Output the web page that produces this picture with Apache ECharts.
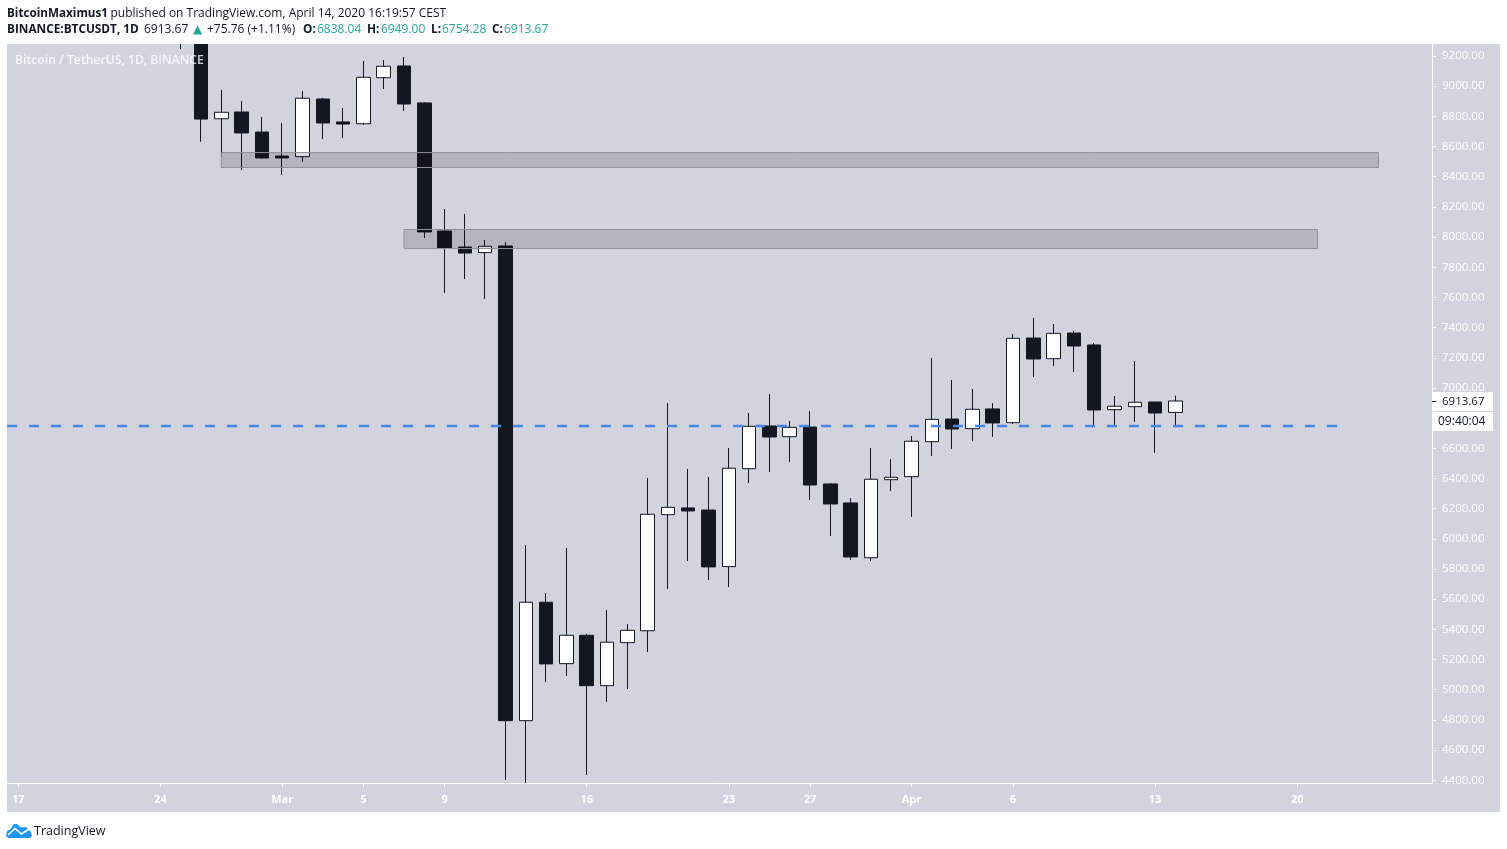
<!DOCTYPE html>
<html>
<head>
<meta charset="utf-8">
<title>BTCUSDT 1D</title>
<style>
    html, body { margin: 0; padding: 0; background: #fff; }
    #chart { width: 1507px; height: 849px; }
</style>
<script src="https://cdn.jsdelivr.net/npm/echarts@6/dist/echarts.min.js"></script>
</head>
<body>
<div id="chart"></div>
<script>
// x is the number of days since Feb 17 2020; first candle in view is Feb 25 (day 8)
const firstDay = 8;
const opens = [9650, 9315, 8784, 8829, 8696, 8537, 8533, 8915, 8763, 8751, 9056, 9134, 8889, 8040, 7934, 7897, 7941, 4795, 5580, 5173, 5361, 5027, 5312, 5391, 6160, 6205, 6191, 5816, 6465, 6748, 6677, 6741, 6364, 6238, 5875, 6392, 6412, 6644, 6794, 6730, 6861, 6770, 7331, 7194, 7364, 7285, 6856, 6876, 6907, 6838.04];
const closes = [9320, 8782, 8827, 8690, 8524, 8524, 8920, 8756, 8749, 9059, 9132, 8882, 8034, 7928, 7894, 7939, 4795, 5580, 5171, 5361, 5027, 5315, 5394, 6163, 6209, 6185, 5814, 6468, 6746, 6675, 6739, 6357, 6231, 5880, 6395, 6408, 6647, 6792, 6728, 6859, 6768, 7329, 7192, 7362, 7278, 6854, 6879, 6905, 6834, 6913.67];
const lows = [9246, 8632, 8533, 8445, 8520, 8411, 8498, 8650, 8657, 8743, 8981, 8836, 7994, 7629, 7722, 7590, 4402, 4382, 5052, 5091, 4435, 4919, 5005, 5250, 5668, 5853, 5727, 5681, 6370, 6443, 6509, 6258, 6019, 5860, 5853, 6317, 6145, 6549, 6596, 6649, 6675, 6761, 7073, 7146, 7106, 6741, 6755, 6775, 6569, 6754.28];
const highs = [9700, 9380, 8975, 8902, 8796, 8756, 8968, 8922, 8855, 9167, 9173, 9193, 8892, 8186, 8153, 7981, 7967, 5959, 5641, 5940, 5370, 5529, 5436, 6403, 6900, 6463, 6410, 6602, 6834, 6960, 6781, 6847, 6370, 6271, 6602, 6529, 6682, 7199, 7053, 6993, 6900, 7358, 7464, 7424, 7378, 7298, 6947, 7179, 6907, 6949];

const tickDays = [0, 7, 13, 17, 21, 28, 35, 39, 44, 49, 56, 63];
const tickLabels = ['17', '24', 'Mar', '5', '9', '16', '23', '27', 'Apr', '6', '13', '20'];
const priceTicks = [4400, 4600, 4800, 5000, 5200, 5400, 5600, 5800, 6000, 6200, 6400, 6600, 6800, 7000, 7200, 7400, 7600, 7800, 8000, 8200, 8400, 8600, 8800, 9000, 9200];

// resistance zones: [from day, to day, top price, bottom price]
const zoneUpper = [10, 67, 8560, 8461];
const zoneLower = [19, 64, 8050, 7924];

const dayMin = -0.557;
const dayMax = 69.64;
const supportPrice = 6748;
const supportDays = [dayMin, 65];

const candles = opens.map((o, i) => [firstDay + i, o, closes[i], lows[i], highs[i]]);

const myChart = echarts.init(document.getElementById('chart'));

const uiFont = '"Open Sans", sans-serif';
const ink = '#131722';
const teal = '#26a69a';

function zoneArea(z) {
    return [{ coord: [z[0], z[2]] }, { coord: [z[1], z[3]] }];
}

function headerText(text, left, top, color, weight, size) {
    return {
        type: 'text', left: left, top: top, z: 20, silent: true,
        style: { text: text, fill: color, font: weight + ' ' + size + 'px ' + uiFont }
    };
}

const options = {
    animation: false,
    backgroundColor: '#fff',
    grid: { left: 7, top: 44, right: 75, bottom: 66 },
    xAxis: {
        type: 'value',
        min: dayMin,
        max: dayMax,
        axisLine: { onZero: false, lineStyle: { color: '#fff', width: 1 } },
        axisTick: { show: true, customValues: tickDays, length: 4, lineStyle: { color: '#fff' } },
        axisLabel: {
            customValues: tickDays,
            formatter: v => tickLabels[tickDays.indexOf(v)],
            color: '#fff',
            fontFamily: uiFont,
            fontWeight: 700,
            fontSize: 11,
            margin: 11
        },
        splitLine: { show: false }
    },
    yAxis: {
        type: 'value',
        position: 'right',
        min: 4382,
        max: 9279.5,
        axisLine: { show: true, onZero: false, lineStyle: { color: '#fff', width: 1 } },
        axisTick: { show: true, customValues: priceTicks, length: 4, lineStyle: { color: '#fff' } },
        axisLabel: {
            customValues: priceTicks,
            formatter: v => v.toFixed(2),
            color: '#fff',
            fontFamily: uiFont,
            fontWeight: 500,
            fontSize: 11.5,
            margin: 10
        },
        splitLine: { show: false }
    },
    series: [
        {
            name: 'BTCUSDT',
            type: 'candlestick',
            data: candles,
            encode: { x: 0, y: [1, 2, 3, 4] },
            barWidth: 14,
            z: 2,
            itemStyle: {
                color: '#ffffff',
                color0: ink,
                borderColor: ink,
                borderColor0: ink,
                borderWidth: 1
            }
        },
        {
            name: 'Zones',
            type: 'line',
            data: [],
            z: 5,
            markArea: {
                silent: true,
                z: 5,
                itemStyle: {
                    color: 'rgba(0, 0, 10, 0.14)',
                    borderColor: '#8f9299',
                    borderWidth: 1
                },
                data: [zoneArea(zoneUpper), zoneArea(zoneLower)]
            }
        },
        {
            name: 'Support',
            type: 'line',
            data: supportDays.map(d => [d, supportPrice]),
            symbol: 'none',
            z: 6,
            lineStyle: { color: '#4a86e8', width: 2.4, type: [10, 12] }
        }
    ],
    graphic: {
        elements: [
            // grey panel behind plot and both axes
            { type: 'rect', z: -10, silent: true, shape: { x: 7, y: 44, width: 1493, height: 768 }, style: { fill: '#d1d4de' } },
            // candles above the frame stop at the plot edge
            { type: 'rect', z: 10, silent: true, shape: { x: 0, y: 0, width: 1507, height: 44 }, style: { fill: '#fff' } },
            headerText('Bitcoin / TetherUS, 1D, BINANCE', 15, 55, 'rgba(255,255,255,0.8)', 600, 12.2),

            headerText('BitcoinMaximus1', 7, 8, ink, 700, 11.7),
            headerText('published on TradingView.com, April 14, 2020 16:19:57 CEST', 110.5, 8, ink, 400, 12),

            headerText('BINANCE:BTCUSDT, 1D', 7, 24, ink, 700, 11.8),
            headerText('6913.67', 144, 24, ink, 400, 12),
            {
                type: 'text', left: 193, top: 24, z: 20, silent: true,
                style: { text: '▲', fill: teal, font: '12px "DejaVu Sans"' }
            },
            headerText('+75.76 (+1.11%)', 207, 24, ink, 400, 12),
            headerText('O:', 303, 24, ink, 700, 11.8),
            headerText('6838.04', 317, 24, teal, 400, 12),
            headerText('H:', 367, 24, ink, 700, 11.8),
            headerText('6949.00', 381, 24, teal, 400, 12),
            headerText('L:', 431, 24, ink, 700, 11.8),
            headerText('6754.28', 442, 24, teal, 400, 12),
            headerText('C:', 492, 24, ink, 700, 11.8),
            headerText('6913.67', 504, 24, teal, 400, 12),

            // last price and countdown tags
            { type: 'rect', z: 20, silent: true, shape: { x: 1433, y: 392, width: 60, height: 19 }, style: { fill: '#fff' } },
            { type: 'rect', z: 20, silent: true, shape: { x: 1433, y: 412, width: 60, height: 19 }, style: { fill: '#fff' } },
            { type: 'line', z: 21, silent: true, shape: { x1: 1432, y1: 401.5, x2: 1436, y2: 401.5 }, style: { stroke: ink, lineWidth: 1 } },
            headerText('6913.67', 1442, 396, ink, 400, 11.5),
            headerText('09:40:04', 1438, 416, ink, 400, 12),

            // TradingView footer
            {
                type: 'polygon', z: 20, silent: true,
                shape: { points: [[6, 836], [7, 831], [10, 829.5], [14, 824], [17, 824], [21, 827.5], [26, 827], [31, 832], [32, 836], [30, 838], [8, 838]] },
                style: { fill: '#2196f3' }
            },
            {
                type: 'polyline', z: 21, silent: true,
                shape: { points: [[8, 835], [15, 828.5], [21.5, 834], [29, 829]] },
                style: { stroke: '#fff', fill: null, lineWidth: 1.6 }
            },
            headerText('TradingView', 34, 825, ink, 400, 12.5)
        ]
    }
};

myChart.setOption(options, true);
</script>
</body>
</html>
